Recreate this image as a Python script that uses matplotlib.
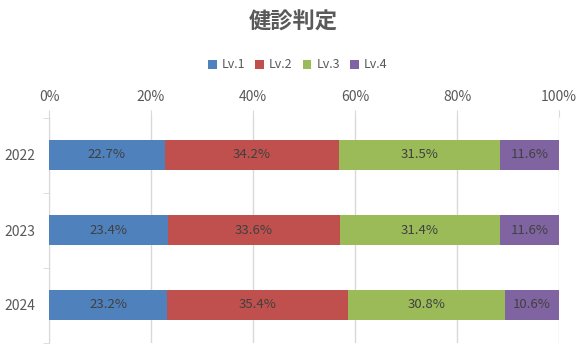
import matplotlib
matplotlib.use("Agg")
import matplotlib.pyplot as plt
from matplotlib.ticker import FixedLocator

plt.rcParams['font.family'] = ['Noto Sans CJK JP', 'DejaVu Sans']

title = "健診判定"
years = ["2022", "2023", "2024"]
series_names = ["Lv.1", "Lv.2", "Lv.3", "Lv.4"]
lv1 = [22.7, 23.4, 23.2]
lv2 = [34.2, 33.6, 35.4]
lv3 = [31.5, 31.4, 30.8]
lv4 = [11.6, 11.6, 10.6]
colors = ["#4F81BD", "#C0504D", "#9BBB59", "#8064A2"]
xticks = [0, 20, 40, 60, 80, 100]

fig = plt.figure(figsize=(5.86, 3.51), dpi=100)
ax = fig.add_axes([49/586, 1-342.5/351, (559-49)/586, (342.5-117.5)/351])

ypos = list(range(len(years)))
left = [0.0]*len(years)
for name, vals, col in zip(series_names, [lv1, lv2, lv3, lv4], colors):
    bars = ax.barh(ypos, vals, left=left, height=0.4, color=col, label=name, zorder=3)
    for y, v, l in zip(ypos, vals, left):
        ax.text(l + v/2, y, f"{v:.1f}%", ha='center', va='center',
                fontsize=9.5, color='#404040', zorder=4)
    left = [a + b for a, b in zip(left, vals)]

ax.set_xlim(0, 100)
ax.set_ylim(2.5, -0.5)
ax.xaxis.tick_top()
ax.set_xticks(xticks)
ax.set_xticklabels([f"{t}%" for t in xticks])
ax.tick_params(axis='x', length=5, color='#d9d9d9', labelsize=10, labelcolor='#595959', pad=4.5)
ax.grid(axis='x', color='#d9d9d9', linewidth=1, zorder=0)

ax.set_yticks(ypos)
ax.set_yticklabels(years)
ax.yaxis.set_minor_locator(FixedLocator([-0.5, 0.5, 1.5, 2.5]))
ax.tick_params(axis='y', which='major', length=0, labelsize=10, labelcolor='#595959', pad=10)
ax.tick_params(axis='y', which='minor', length=4, color='#d9d9d9')

for s in ['top', 'right', 'bottom']:
    ax.spines[s].set_visible(False)
ax.spines['left'].set_color('#d9d9d9')

fig.text(0.5, 1-22/351, title, ha='center', va='center', fontsize=16,
         fontweight='bold', color='#595959')
fig.legend(loc='center', bbox_to_anchor=(0.508, 1-65/351), ncol=4, frameon=False,
           fontsize=9, handlelength=0.7, handleheight=0.7, handletextpad=0.4,
           columnspacing=0.8, labelcolor='#595959')

fig.savefig("out.png", dpi=100)
